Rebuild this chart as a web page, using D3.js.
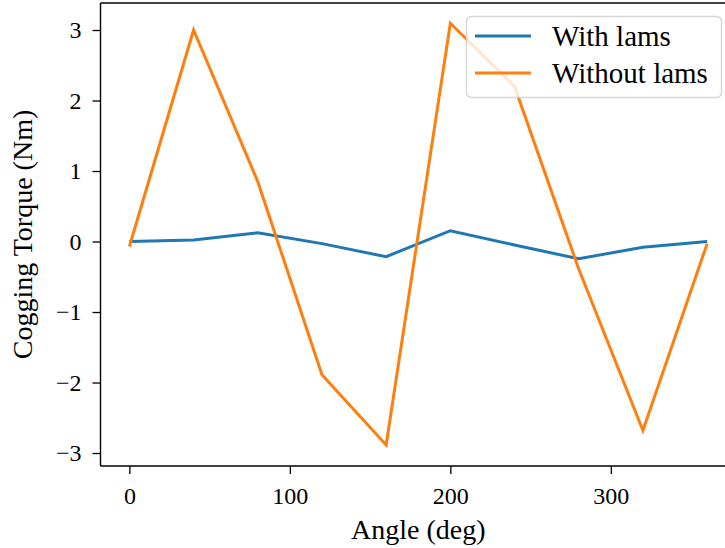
<!DOCTYPE html>
<html>
<head>
<meta charset="utf-8">
<script src="https://cdn.jsdelivr.net/npm/d3@7"></script>
<style>
  html, body { margin: 0; padding: 0; background: #fff; }
  svg { display: block; }
  text { font-family: "Liberation Serif", "Times New Roman", serif; fill: #000; }
</style>
</head>
<body>
<script>
const angles = [0, 40, 80, 120, 160, 200, 240, 280, 320, 360];
const withLams = [0.0, 0.02, 0.125, -0.03, -0.215, 0.153, -0.05, -0.245, -0.08, 0.0];
const withoutLams = [-0.07, 3.0, 0.85, -1.89, -2.885, 3.095, 2.2, -0.39, -2.68, -0.03];
const seriesNames = ["With lams", "Without lams"];
const xTicks = [0, 100, 200, 300];
const yTicks = [-3, -2, -1, 0, 1, 2, 3];
const xLabel = "Angle (deg)";
const yLabel = "Cogging Torque (Nm)";

(function () {
const W = 725, H = 548;
const pL = 100.5, pR = 736, pT = 3, pB = 466;
const colors = ["#1f77b4", "#ff7f0e"];

const svg = d3.select("body").append("svg").attr("width", W).attr("height", H);

const x = d3.scaleLinear().domain([-18, 378]).range([pL, pR]);
const y = d3.scaleLinear().domain([-3.184, 3.383]).range([pB, pT]);

// lines
const line = d3.line().x((d, i) => x(angles[i])).y(d => y(d));
const series = [withLams, withoutLams];
series.forEach((s, k) => {
  svg.append("path").datum(s)
    .attr("d", line)
    .attr("fill", "none")
    .attr("stroke", colors[k])
    .attr("stroke-width", 3)
    .attr("stroke-linejoin", "miter")
    .attr("stroke-linecap", "butt");
});

// axes
const xAxis = d3.axisBottom(x).tickValues(xTicks).tickSize(8).tickPadding(13).tickFormat(d3.format("d"));
const gx = svg.append("g").attr("transform", `translate(0,${pB})`).call(xAxis);
gx.select(".domain").attr("stroke-width", 1.4).attr("d", `M${pL},0H${pR}`);
gx.selectAll(".tick line").attr("stroke-width", 1.3);
gx.selectAll(".tick text").attr("font-size", 24).attr("font-family", "Liberation Serif");

const yAxis = d3.axisLeft(y).tickValues(yTicks).tickSize(8).tickPadding(11)
  .tickFormat(d => d < 0 ? "\u2212" + Math.abs(d) : String(d));
const gy = svg.append("g").attr("transform", `translate(${pL},0)`).call(yAxis);
gy.select(".domain").attr("stroke-width", 1.4).attr("d", `M0,${pB}V${pT}`);
gy.selectAll(".tick line").attr("stroke-width", 1.3);
gy.selectAll(".tick text").attr("font-size", 24).attr("font-family", "Liberation Serif");

// top spine
svg.append("line").attr("x1", pL).attr("x2", pR).attr("y1", pT).attr("y2", pT)
  .attr("stroke", "#000").attr("stroke-width", 1.4);

// labels
svg.append("text").attr("x", (pL + pR) / 2).attr("y", 539)
  .attr("text-anchor", "middle").attr("font-size", 28).text(xLabel);
svg.append("text").attr("transform", `translate(32,${(pT + pB) / 2}) rotate(-90)`)
  .attr("text-anchor", "middle").attr("font-size", 28).text(yLabel);

// legend
const lg = svg.append("g");
lg.append("rect").attr("x", 466.5).attr("y", 16.5).attr("width", 255).attr("height", 81)
  .attr("rx", 5).attr("ry", 5)
  .attr("fill", "#fff").attr("fill-opacity", 0.8)
  .attr("stroke", "#cccccc").attr("stroke-opacity", 0.8).attr("stroke-width", 1.4);
seriesNames.forEach((name, k) => {
  const yy = 36 + k * 37;
  lg.append("line").attr("x1", 475).attr("x2", 531).attr("y1", yy).attr("y2", yy)
    .attr("stroke", colors[k]).attr("stroke-width", 3);
  lg.append("text").attr("x", 552).attr("y", yy).attr("dy", "0.35em")
    .attr("font-size", 29).text(name);
});
})();
</script>
</body>
</html>
